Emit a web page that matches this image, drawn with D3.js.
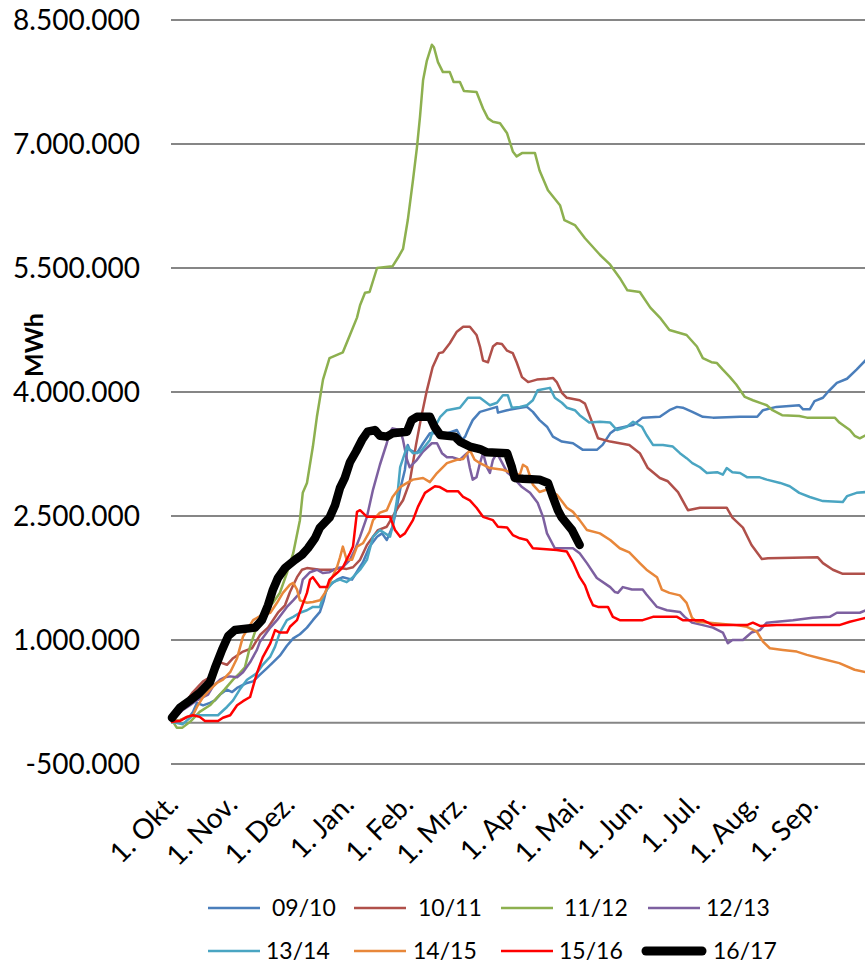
<!DOCTYPE html>
<html><head><meta charset="utf-8">
<script src="https://cdn.jsdelivr.net/npm/d3@7"></script>
<style>body{margin:0;background:#fff}svg{display:block}text{font-family:Lato,"DejaVu Sans",sans-serif;fill:#000}</style>
</head><body><svg id="c" width="865" height="967"></svg>
<script>
// Values: [day since 1 Oct, Mio. MWh]
const seasons = ["09/10","10/11","11/12","12/13","13/14","14/15","15/16","16/17"];
const colors = ["#4A7EBB","#B0504A","#8DB04F","#7D60A0","#4AA5C2","#E8873A","#FF0000","#000000"];
const monthLabels = ["1. Okt.","1. Nov.","1. Dez.","1. Jan.","1. Feb.","1. Mrz.","1. Apr.","1. Mai.","1. Jun.","1. Jul.","1. Aug.","1. Sep."];
const monthDays = [0,31,61,92,123,151,182,212,243,273,304,335];
const yTicks = [-0.5,1,2.5,4,5.5,7,8.5];
const yTickLabels = ["-500.000","1.000.000","2.500.000","4.000.000","5.500.000","7.000.000","8.500.000"];

const s0910 = [[0.5,0.02],[4.7,0.03],[10,0.08],[11.5,0.13],[13.6,0.24],[16.8,0.21],[20.4,0.24],[23,0.27],[25.7,0.34],[29.3,0.40],[32,0.37],[34.6,0.42],[39.8,0.48],[43,0.50],[46.6,0.58],[50.3,0.66],[53.4,0.73],[57,0.81],[60.7,0.93],[64,1.02],[67.5,1.07],[71.2,1.15],[74.3,1.24],[78,1.34],[80,1.48],[81.7,1.64],[87,1.73],[90,1.76],[94.8,1.73],[98,1.85],[100.5,1.94],[104,2.13],[107.9,2.25],[110.5,2.29],[113,2.21],[116,2.37],[118.3,2.61],[120,2.82],[122.5,3.06],[124,3.36],[125,3.30],[128.8,3.26],[132,3.38],[135.6,3.50],[144.5,3.50],[149.7,3.54],[152.4,3.42],[154,3.46],[155.5,3.54],[158,3.66],[161.8,3.76],[170.7,3.82],[171.2,3.75],[176,3.78],[183,3.81],[186.4,3.82],[189.5,3.76],[193,3.66],[196.9,3.58],[200,3.46],[204.7,3.40],[210.5,3.38],[215.7,3.30],[223,3.30],[226,3.36],[230,3.50],[233.5,3.56],[242,3.60],[247,3.69],[256,3.70],[261,3.78],[265,3.82],[268,3.81],[273,3.76],[278.5,3.70],[283.8,3.69],[298,3.70],[307,3.70],[310,3.78],[317,3.82],[329,3.84],[331,3.79],[334.5,3.79],[337,3.89],[341.4,3.93],[344,4.00],[348.7,4.11],[354,4.16],[359,4.27],[364,4.39]];
const s1011 = [[0.5,0.03],[4.7,0.12],[8.4,0.27],[11.5,0.37],[16.8,0.50],[20.4,0.55],[24,0.65],[25.7,0.73],[29.3,0.70],[32.5,0.78],[37.7,0.86],[42.4,0.90],[46.6,1.06],[50.8,1.15],[56,1.33],[59.7,1.42],[62.3,1.58],[66,1.76],[68.6,1.85],[71.2,1.87],[78,1.85],[84.8,1.85],[88.5,1.87],[92,1.86],[95.3,1.88],[99,1.97],[102.6,2.15],[105.8,2.25],[108.4,2.33],[113,2.37],[116,2.49],[118,2.57],[121.5,2.69],[125,2.91],[128.3,3.36],[131,3.69],[134,4.02],[137,4.30],[140.3,4.47],[142.4,4.48],[146,4.59],[149.7,4.73],[153,4.79],[156.5,4.79],[160,4.69],[161.8,4.55],[163.4,4.38],[166,4.36],[168.6,4.55],[170.7,4.59],[173.3,4.58],[176,4.50],[179,4.47],[181,4.36],[183.8,4.18],[187,4.12],[191.6,4.15],[197,4.16],[200,4.17],[202,4.12],[204.7,3.99],[207.3,3.93],[214,3.90],[216.8,3.86],[220.4,3.64],[223.6,3.44],[230,3.40],[240,3.36],[245.5,3.26],[249.7,3.08],[256,2.96],[260.2,2.92],[265.5,2.79],[270.7,2.57],[277,2.60],[291,2.60],[294,2.48],[299.5,2.36],[304,2.15],[309.4,1.98],[312.6,1.99],[338.7,2.00],[341.4,1.93],[346.6,1.85],[351.8,1.80],[364,1.80]];
const s1112 = [[0.5,0.03],[3,-0.06],[6,-0.06],[10,0.01],[15,0.13],[20.4,0.21],[24,0.30],[28,0.40],[32.5,0.52],[36,0.60],[38.7,0.67],[41.4,0.92],[44.9,1.16],[48,1.33],[53.4,1.45],[57,1.57],[60.7,1.81],[64,2.05],[67.5,2.45],[69,2.78],[71.2,2.90],[74.3,3.34],[76.4,3.70],[79.6,4.15],[83,4.41],[90,4.48],[93.7,4.69],[97.4,4.90],[99,5.05],[101.6,5.20],[104,5.21],[107.9,5.50],[116,5.52],[119,5.63],[121.5,5.73],[124,6.08],[126.7,6.56],[128.8,6.96],[130.4,7.33],[132,7.77],[134,8.01],[136.6,8.20],[137.7,8.17],[139.8,7.99],[142.4,7.87],[146,7.87],[148,7.75],[151.3,7.75],[153.4,7.64],[160,7.63],[163.4,7.43],[166,7.31],[168.6,7.27],[172.3,7.25],[176,7.13],[179,6.91],[181,6.85],[183.8,6.89],[190.6,6.89],[193,6.68],[197.4,6.44],[203.7,6.26],[206,6.08],[211.5,6.02],[216.8,5.86],[224.6,5.66],[230,5.54],[235,5.38],[239,5.23],[245.5,5.21],[251,5.02],[256,4.90],[261,4.75],[270,4.69],[275.4,4.55],[278.5,4.41],[283,4.36],[285.9,4.35],[289,4.27],[292.7,4.18],[296,4.09],[300.5,3.94],[304.7,3.90],[312,3.84],[315,3.78],[320,3.72],[329,3.71],[333,3.69],[347.6,3.69],[350,3.63],[355.5,3.54],[358,3.47],[360.7,3.44],[364,3.48]];
const s1213 = [[0.5,0.03],[6,0.15],[10,0.21],[13.6,0.27],[16.8,0.31],[19.4,0.34],[22,0.44],[25.7,0.52],[28.3,0.55],[31,0.56],[34.6,0.55],[37.7,0.61],[41.4,0.73],[45,0.88],[46.6,0.98],[52,1.15],[55.5,1.24],[60.7,1.40],[64,1.48],[67.5,1.57],[69,1.73],[72.8,1.82],[76.4,1.85],[79.6,1.81],[83,1.82],[86.9,1.87],[90,1.88],[93.7,1.97],[96.3,2.09],[99,2.25],[102.6,2.49],[105.8,2.82],[109.4,3.12],[113,3.38],[114.7,3.52],[116,3.56],[120,3.54],[121.5,3.42],[123.6,3.18],[125,3.09],[128.8,3.18],[132,3.28],[136.6,3.38],[139.3,3.38],[141.9,3.26],[144.5,3.21],[147.6,3.21],[151.3,3.18],[155,3.26],[156.5,3.08],[158,2.94],[160,2.97],[161.8,3.14],[163.4,3.26],[165.4,3.09],[167,3.02],[168.6,3.18],[170.7,3.26],[176,3.03],[179,2.97],[183.8,2.85],[188,2.78],[192,2.66],[194.8,2.49],[196.9,2.29],[201,2.11],[210.5,2.11],[214,2.05],[217.8,1.93],[223,1.75],[230,1.64],[232.5,1.58],[234,1.57],[236.6,1.64],[241.4,1.61],[247,1.61],[249,1.55],[254.5,1.40],[259.7,1.36],[266.5,1.34],[269,1.28],[272.8,1.21],[278.5,1.18],[283.8,1.15],[289,1.09],[291.6,0.96],[294,1.00],[299.5,1.00],[304,1.09],[308.4,1.12],[312,1.21],[317.3,1.22],[325.7,1.24],[336,1.27],[345,1.28],[348.7,1.33],[360.7,1.33],[364,1.36]];
const s1314 = [[0.5,0.01],[6,-0.02],[11.5,0.09],[24.6,0.09],[29.3,0.19],[32.5,0.27],[36,0.40],[39.8,0.52],[45,0.60],[48,0.70],[52,0.80],[54.5,0.92],[57,1.09],[60.7,1.24],[64,1.28],[67.5,1.33],[71.2,1.36],[74.3,1.40],[78,1.40],[79.6,1.52],[81.7,1.61],[84.8,1.70],[88.5,1.73],[92,1.70],[95.3,1.76],[99,1.85],[102.6,1.97],[105.8,2.25],[109.4,2.33],[114.7,2.25],[116,2.37],[118.3,2.69],[120,3.09],[123.6,3.34],[126.7,3.26],[130.4,3.27],[135.6,3.42],[137,3.52],[141,3.70],[144.5,3.78],[151.3,3.81],[155.5,3.93],[161.8,3.93],[167,3.84],[170.7,3.87],[173.8,3.96],[176.4,3.96],[178.5,3.81],[182.7,3.82],[186.4,3.84],[189.5,3.90],[192,4.02],[198.4,4.05],[201,3.93],[204.7,3.87],[207.3,3.81],[211.5,3.78],[214,3.72],[219,3.63],[224.6,3.64],[230,3.63],[233.5,3.54],[238.7,3.58],[242,3.64],[246.6,3.58],[249,3.48],[252.4,3.36],[257.6,3.36],[262.8,3.34],[266.5,3.26],[270,3.20],[273,3.14],[277,3.09],[280.6,3.02],[286,3.03],[289,3.00],[291,3.08],[294,3.03],[298,3.02],[301.6,2.97],[308,2.97],[312,2.94],[319,2.90],[324,2.86],[329,2.78],[334.5,2.73],[341.4,2.68],[351.8,2.67],[354,2.74],[359,2.78],[364,2.79]];
const s1415 = [[0.5,0.02],[4.7,0.03],[8.4,0.07],[11.5,0.09],[13.6,0.19],[16.8,0.31],[20.4,0.40],[24,0.48],[27.2,0.52],[31,0.61],[34.6,0.78],[37.7,1.04],[43,1.24],[46.6,1.29],[52,1.33],[55.5,1.45],[58.6,1.57],[62.3,1.67],[64,1.69],[66,1.61],[67.5,1.48],[71.2,1.45],[74.3,1.46],[78,1.48],[80.6,1.57],[83,1.69],[86.9,1.88],[88.5,2.00],[90,2.13],[92,1.97],[94.8,1.97],[97.4,2.13],[100.5,2.17],[104,2.31],[105.8,2.45],[109.4,2.54],[113,2.57],[116,2.73],[120,2.85],[123.6,2.90],[126.7,2.94],[132,2.96],[135.6,2.91],[139.3,3.02],[144.5,3.14],[149.7,3.18],[153,3.19],[156.5,3.30],[159,3.18],[161.8,3.14],[167,3.08],[173.8,3.06],[179,3.02],[182.7,3.00],[184.3,3.12],[186.4,3.09],[189.5,2.88],[193,2.79],[196.9,2.82],[202,2.76],[207.3,2.60],[210.5,2.55],[214,2.45],[217.8,2.33],[224.6,2.29],[230,2.21],[235,2.11],[240,2.06],[245.5,1.93],[249,1.85],[254.5,1.76],[257,1.61],[261,1.57],[266.5,1.54],[270,1.45],[272.8,1.27],[275.4,1.22],[282,1.21],[296,1.18],[301.6,1.16],[306.8,1.10],[310,0.98],[313.6,0.90],[320.4,0.88],[327.7,0.86],[333,0.82],[339.8,0.78],[350,0.72],[358,0.64],[364,0.61]];
const s1516 = [[0.5,0.01],[4.7,0.02],[8.4,0.07],[11.5,0.09],[15,0.07],[17.8,0.02],[24.6,0.02],[27.2,0.06],[31,0.09],[34.6,0.21],[37.7,0.26],[41.4,0.31],[45,0.60],[48,0.79],[52,0.96],[54.5,1.12],[57,1.09],[60.7,1.09],[62.3,1.16],[66,1.24],[67.5,1.34],[71.2,1.57],[72.8,1.73],[74.3,1.76],[78,1.64],[81.7,1.64],[83,1.73],[86.9,1.81],[90,1.88],[93.7,2.05],[95.3,2.13],[97.4,2.55],[99,2.57],[102.6,2.49],[114.7,2.49],[117.3,2.33],[120,2.25],[122.5,2.29],[126.7,2.45],[129.3,2.61],[133,2.78],[138.2,2.86],[140.8,2.85],[144.5,2.80],[150.3,2.80],[153,2.73],[156.5,2.69],[160,2.60],[163.4,2.49],[168.6,2.45],[171.2,2.37],[176,2.36],[179,2.27],[182.7,2.23],[186.4,2.21],[189.5,2.11],[202,2.09],[207.3,2.07],[210.5,1.94],[214,1.76],[216.8,1.66],[219,1.52],[221,1.42],[223.6,1.40],[228.8,1.40],[231.4,1.28],[235,1.24],[247,1.24],[252.4,1.28],[265,1.28],[268,1.24],[278.5,1.24],[283.8,1.18],[301.6,1.18],[304.7,1.21],[308.4,1.17],[317.3,1.18],[350,1.18],[355.5,1.22],[359,1.24],[364,1.27]];
const s1617 = [[0.5,0.06],[4.7,0.18],[10,0.27],[15,0.36],[20.4,0.49],[23,0.66],[26.7,0.88],[30,1.05],[33.5,1.12],[44,1.15],[47.6,1.24],[50.8,1.42],[53.4,1.61],[56,1.75],[59.7,1.87],[65,1.97],[68.6,2.03],[71.7,2.11],[75.4,2.23],[78,2.36],[83,2.48],[85.9,2.63],[88.5,2.84],[91,2.96],[93.7,3.15],[96.9,3.28],[100,3.42],[103,3.52],[106.8,3.54],[109.4,3.47],[113,3.46],[116,3.50],[123.6,3.52],[126,3.66],[128.8,3.70],[135.6,3.70],[138,3.58],[141,3.48],[148.7,3.46],[151.3,3.40],[156.5,3.34],[161.8,3.31],[165.4,3.27],[176,3.26],[178.5,3.09],[180,2.96],[184.3,2.95],[193,2.94],[197.4,2.90],[200,2.73],[202.6,2.57],[204.7,2.48],[210,2.33],[214,2.15]];
const seriesData = [s0910,s1011,s1112,s1213,s1314,s1415,s1516,s1617];

const svg = d3.select("#c");
const x = d3.scaleLinear().domain([0,365]).range([171,868]);
const y = d3.scaleLinear().domain([-0.5,8.5]).range([764,20]);

// gridlines
svg.append("g").selectAll("line").data(yTicks.concat([0])).join("line")
  .attr("x1",171).attr("x2",868).attr("y1",d=>y(d)).attr("y2",d=>y(d))
  .attr("stroke","#868686").attr("stroke-width",2);

// y labels
svg.append("g").selectAll("text").data(yTicks).join("text")
  .attr("x",140).attr("y",d=>y(d)).attr("dy","0.36em").attr("text-anchor","end")
  .style("font-size","28px").text((d,i)=>yTickLabels[i]);

// y title
svg.append("text").attr("transform","translate(43,345) rotate(-90)").attr("text-anchor","middle")
  .style("font-size","25px").style("font-weight","bold").text("MWh");

// x labels
svg.append("g").selectAll("text").data(monthDays).join("text")
  .attr("transform",d=>`translate(${x(d)+9},${806}) rotate(-45)`).attr("text-anchor","end")
  .style("font-size","28px").text((d,i)=>monthLabels[i]);

// lines
const line = d3.line().x(d=>x(d[0])).y(d=>y(d[1]));
svg.append("g").selectAll("path").data(seriesData).join("path")
  .attr("d",line).attr("fill","none")
  .attr("stroke",(d,i)=>colors[i])
  .attr("stroke-width",(d,i)=>i===7?8.5:2.5)
  .attr("stroke-linejoin","round").attr("stroke-linecap","round");

// legend
const legLineX = [[208,354,501,648],[208,354,501,646]];
const legTextX = [[272,418,564,706],[266,413,559,713]];
const legY = [908,951];
const lg = svg.append("g");
seasons.forEach((s,i)=>{
  const r = Math.floor(i/4), c = i%4;
  lg.append("line").attr("x1",legLineX[r][c]).attr("x2",legLineX[r][c]+(i===7?56:52))
    .attr("y1",legY[r]).attr("y2",legY[r]).attr("stroke",colors[i])
    .attr("stroke-width",i===7?9:2.5).attr("stroke-linecap",i===7?"round":"butt");
  lg.append("text").attr("x",legTextX[r][c]).attr("y",legY[r]).attr("dy","0.36em")
    .style("font-size","23px").text(s);
});
</script></body></html>
